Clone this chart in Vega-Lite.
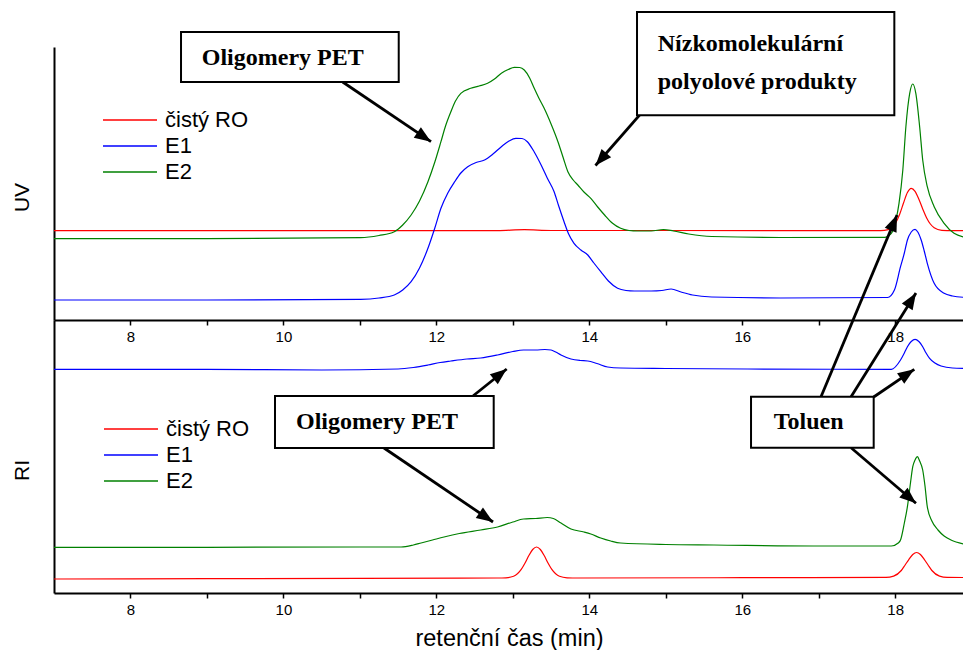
{
  "$schema": "https://vega.github.io/schema/vega-lite/v6.json",
  "usermeta": {"embedOptions": {"actions": false}},
  "padding": {"left": 11, "top": 11, "right": 0, "bottom": 0},
  "bounds": "flush",
  "spacing": 0,
  "config": {
    "view": {"stroke": null},
    "axis": {"domainColor": "black", "domainWidth": 2, "tickColor": "black", "tickWidth": 1.5, "labelColor": "black", "labelFont": "Liberation Sans", "titleFont": "Liberation Sans", "titleFontWeight": "normal", "titleColor": "black", "grid": false},
    "legend": {"labelFont": "Liberation Sans", "labelColor": "black"}
  },
  "resolve": {"legend": {"color": "independent"}},
  "datasets": {
    "uv": [
      {"s": "čistý RO", "t": 7.0, "v": 89.3}, {"s": "čistý RO", "t": 9.0, "v": 89.3}, {"s": "čistý RO", "t": 11.0, "v": 89.3}, {"s": "čistý RO", "t": 12.8, "v": 89.4}, {"s": "čistý RO", "t": 13.15, "v": 90.3}, {"s": "čistý RO", "t": 13.5, "v": 89.5}, {"s": "čistý RO", "t": 15.0, "v": 89.5}, {"s": "čistý RO", "t": 16.5, "v": 89.3}, {"s": "čistý RO", "t": 17.81, "v": 89.3}, {"s": "čistý RO", "t": 17.91, "v": 90.3}, {"s": "čistý RO", "t": 18.01, "v": 97.5}, {"s": "čistý RO", "t": 18.06, "v": 106}, {"s": "čistý RO", "t": 18.11, "v": 117.3}, {"s": "čistý RO", "t": 18.16, "v": 127.5}, {"s": "čistý RO", "t": 18.21, "v": 131.7}, {"s": "čistý RO", "t": 18.26, "v": 128.7}, {"s": "čistý RO", "t": 18.31, "v": 120.8}, {"s": "čistý RO", "t": 18.36, "v": 111.1}, {"s": "čistý RO", "t": 18.41, "v": 102.3}, {"s": "čistý RO", "t": 18.46, "v": 96}, {"s": "čistý RO", "t": 18.51, "v": 92.3}, {"s": "čistý RO", "t": 18.61, "v": 89.7}, {"s": "čistý RO", "t": 18.75, "v": 89.3}, {"s": "čistý RO", "t": 18.9, "v": 89.3},
      {"s": "E1", "t": 7.0, "v": 20}, {"s": "E1", "t": 9.0, "v": 20}, {"s": "E1", "t": 11.01, "v": 20.7}, {"s": "E1", "t": 11.25, "v": 22}, {"s": "E1", "t": 11.45, "v": 25}, {"s": "E1", "t": 11.56, "v": 30}, {"s": "E1", "t": 11.67, "v": 38.3}, {"s": "E1", "t": 11.78, "v": 52}, {"s": "E1", "t": 11.89, "v": 71.7}, {"s": "E1", "t": 11.98, "v": 92}, {"s": "E1", "t": 12.06, "v": 111.7}, {"s": "E1", "t": 12.15, "v": 127}, {"s": "E1", "t": 12.24, "v": 138.3}, {"s": "E1", "t": 12.32, "v": 147}, {"s": "E1", "t": 12.41, "v": 153.3}, {"s": "E1", "t": 12.52, "v": 157.5}, {"s": "E1", "t": 12.63, "v": 160}, {"s": "E1", "t": 12.74, "v": 166}, {"s": "E1", "t": 12.85, "v": 173.3}, {"s": "E1", "t": 12.95, "v": 179}, {"s": "E1", "t": 13.04, "v": 181.7}, {"s": "E1", "t": 13.12, "v": 181.5}, {"s": "E1", "t": 13.19, "v": 178.3}, {"s": "E1", "t": 13.28, "v": 168}, {"s": "E1", "t": 13.37, "v": 155}, {"s": "E1", "t": 13.45, "v": 142}, {"s": "E1", "t": 13.54, "v": 128.3}, {"s": "E1", "t": 13.6, "v": 114}, {"s": "E1", "t": 13.67, "v": 98.3}, {"s": "E1", "t": 13.73, "v": 86}, {"s": "E1", "t": 13.8, "v": 76.7}, {"s": "E1", "t": 13.89, "v": 70}, {"s": "E1", "t": 13.98, "v": 65}, {"s": "E1", "t": 14.06, "v": 57}, {"s": "E1", "t": 14.15, "v": 48.3}, {"s": "E1", "t": 14.25, "v": 39}, {"s": "E1", "t": 14.37, "v": 31.7}, {"s": "E1", "t": 14.48, "v": 29.5}, {"s": "E1", "t": 14.59, "v": 29}, {"s": "E1", "t": 14.81, "v": 29}, {"s": "E1", "t": 14.95, "v": 29.5}, {"s": "E1", "t": 15.07, "v": 31}, {"s": "E1", "t": 15.2, "v": 28}, {"s": "E1", "t": 15.35, "v": 25}, {"s": "E1", "t": 15.6, "v": 23}, {"s": "E1", "t": 16.5, "v": 22}, {"s": "E1", "t": 17.9, "v": 22.5}, {"s": "E1", "t": 17.99, "v": 30}, {"s": "E1", "t": 18.07, "v": 53.3}, {"s": "E1", "t": 18.12, "v": 67}, {"s": "E1", "t": 18.16, "v": 80}, {"s": "E1", "t": 18.21, "v": 88}, {"s": "E1", "t": 18.26, "v": 90.7}, {"s": "E1", "t": 18.3, "v": 87.5}, {"s": "E1", "t": 18.34, "v": 80}, {"s": "E1", "t": 18.38, "v": 69}, {"s": "E1", "t": 18.42, "v": 56.7}, {"s": "E1", "t": 18.51, "v": 36.7}, {"s": "E1", "t": 18.64, "v": 26.7}, {"s": "E1", "t": 18.75, "v": 24}, {"s": "E1", "t": 18.9, "v": 22.7},
      {"s": "E2", "t": 7.0, "v": 81.3}, {"s": "E2", "t": 9.0, "v": 81.3}, {"s": "E2", "t": 11.01, "v": 82.3}, {"s": "E2", "t": 11.25, "v": 84.5}, {"s": "E2", "t": 11.45, "v": 88.3}, {"s": "E2", "t": 11.56, "v": 95}, {"s": "E2", "t": 11.67, "v": 105}, {"s": "E2", "t": 11.78, "v": 119}, {"s": "E2", "t": 11.89, "v": 138.3}, {"s": "E2", "t": 11.98, "v": 158}, {"s": "E2", "t": 12.06, "v": 178.3}, {"s": "E2", "t": 12.12, "v": 194}, {"s": "E2", "t": 12.19, "v": 208.3}, {"s": "E2", "t": 12.25, "v": 219}, {"s": "E2", "t": 12.32, "v": 226.7}, {"s": "E2", "t": 12.45, "v": 231.7}, {"s": "E2", "t": 12.56, "v": 234}, {"s": "E2", "t": 12.67, "v": 236.7}, {"s": "E2", "t": 12.76, "v": 241}, {"s": "E2", "t": 12.85, "v": 246.7}, {"s": "E2", "t": 12.94, "v": 250.5}, {"s": "E2", "t": 13.02, "v": 252.7}, {"s": "E2", "t": 13.09, "v": 252.5}, {"s": "E2", "t": 13.15, "v": 250}, {"s": "E2", "t": 13.22, "v": 242}, {"s": "E2", "t": 13.28, "v": 231.7}, {"s": "E2", "t": 13.34, "v": 222}, {"s": "E2", "t": 13.41, "v": 211.7}, {"s": "E2", "t": 13.5, "v": 196}, {"s": "E2", "t": 13.59, "v": 178.3}, {"s": "E2", "t": 13.66, "v": 162}, {"s": "E2", "t": 13.72, "v": 148.3}, {"s": "E2", "t": 13.79, "v": 140}, {"s": "E2", "t": 13.85, "v": 135}, {"s": "E2", "t": 13.93, "v": 128}, {"s": "E2", "t": 14.02, "v": 121.7}, {"s": "E2", "t": 14.11, "v": 113}, {"s": "E2", "t": 14.2, "v": 105}, {"s": "E2", "t": 14.3, "v": 97}, {"s": "E2", "t": 14.41, "v": 91.7}, {"s": "E2", "t": 14.52, "v": 89.5}, {"s": "E2", "t": 14.63, "v": 89}, {"s": "E2", "t": 14.81, "v": 89}, {"s": "E2", "t": 14.97, "v": 90.5}, {"s": "E2", "t": 15.1, "v": 89}, {"s": "E2", "t": 15.3, "v": 86}, {"s": "E2", "t": 15.6, "v": 83.5}, {"s": "E2", "t": 16.5, "v": 82.5}, {"s": "E2", "t": 17.86, "v": 82.7}, {"s": "E2", "t": 17.95, "v": 86.7}, {"s": "E2", "t": 18.01, "v": 100}, {"s": "E2", "t": 18.05, "v": 116.7}, {"s": "E2", "t": 18.1, "v": 150}, {"s": "E2", "t": 18.14, "v": 193.3}, {"s": "E2", "t": 18.19, "v": 226.7}, {"s": "E2", "t": 18.23, "v": 236}, {"s": "E2", "t": 18.27, "v": 226.7}, {"s": "E2", "t": 18.32, "v": 193.3}, {"s": "E2", "t": 18.36, "v": 160}, {"s": "E2", "t": 18.42, "v": 133.3}, {"s": "E2", "t": 18.51, "v": 113.3}, {"s": "E2", "t": 18.64, "v": 96.7}, {"s": "E2", "t": 18.77, "v": 86.7}, {"s": "E2", "t": 18.9, "v": 83}
    ],
    "ri": [
      {"s": "čistý RO", "t": 7.0, "v": 14}, {"s": "čistý RO", "t": 9.0, "v": 14.3}, {"s": "čistý RO", "t": 11.0, "v": 14.7}, {"s": "čistý RO", "t": 12.8, "v": 15}, {"s": "čistý RO", "t": 12.91, "v": 15.2}, {"s": "čistý RO", "t": 13.01, "v": 16.7}, {"s": "čistý RO", "t": 13.11, "v": 23.6}, {"s": "čistý RO", "t": 13.16, "v": 30}, {"s": "čistý RO", "t": 13.21, "v": 37.5}, {"s": "čistý RO", "t": 13.26, "v": 43.5}, {"s": "čistý RO", "t": 13.31, "v": 46}, {"s": "čistý RO", "t": 13.36, "v": 43.5}, {"s": "čistý RO", "t": 13.41, "v": 37.5}, {"s": "čistý RO", "t": 13.46, "v": 30}, {"s": "čistý RO", "t": 13.51, "v": 23.6}, {"s": "čistý RO", "t": 13.61, "v": 16.7}, {"s": "čistý RO", "t": 13.71, "v": 15.2}, {"s": "čistý RO", "t": 13.85, "v": 15}, {"s": "čistý RO", "t": 16.0, "v": 15.3}, {"s": "čistý RO", "t": 17.88, "v": 15.6}, {"s": "čistý RO", "t": 17.98, "v": 16.9}, {"s": "čistý RO", "t": 18.08, "v": 22.5}, {"s": "čistý RO", "t": 18.13, "v": 28}, {"s": "čistý RO", "t": 18.18, "v": 33.7}, {"s": "čistý RO", "t": 18.23, "v": 38.5}, {"s": "čistý RO", "t": 18.28, "v": 40.5}, {"s": "čistý RO", "t": 18.33, "v": 38.5}, {"s": "čistý RO", "t": 18.38, "v": 33.7}, {"s": "čistý RO", "t": 18.43, "v": 28}, {"s": "čistý RO", "t": 18.48, "v": 22.5}, {"s": "čistý RO", "t": 18.58, "v": 16.9}, {"s": "čistý RO", "t": 18.68, "v": 15.6}, {"s": "čistý RO", "t": 18.9, "v": 15.5},
      {"s": "E1", "t": 7.0, "v": 223.7}, {"s": "E1", "t": 9.0, "v": 223.7}, {"s": "E1", "t": 10.5, "v": 223}, {"s": "E1", "t": 11.5, "v": 224}, {"s": "E1", "t": 11.7, "v": 225.5}, {"s": "E1", "t": 11.89, "v": 228}, {"s": "E1", "t": 12.05, "v": 230.5}, {"s": "E1", "t": 12.19, "v": 232}, {"s": "E1", "t": 12.4, "v": 234}, {"s": "E1", "t": 12.58, "v": 235}, {"s": "E1", "t": 12.8, "v": 238}, {"s": "E1", "t": 13.0, "v": 241.5}, {"s": "E1", "t": 13.14, "v": 243}, {"s": "E1", "t": 13.3, "v": 243}, {"s": "E1", "t": 13.42, "v": 243.5}, {"s": "E1", "t": 13.5, "v": 243}, {"s": "E1", "t": 13.56, "v": 241}, {"s": "E1", "t": 13.63, "v": 238}, {"s": "E1", "t": 13.76, "v": 234}, {"s": "E1", "t": 13.88, "v": 232.5}, {"s": "E1", "t": 13.98, "v": 232}, {"s": "E1", "t": 14.1, "v": 229.5}, {"s": "E1", "t": 14.24, "v": 226}, {"s": "E1", "t": 14.41, "v": 225}, {"s": "E1", "t": 15.0, "v": 224.5}, {"s": "E1", "t": 16.07, "v": 224}, {"s": "E1", "t": 17.95, "v": 223.7}, {"s": "E1", "t": 18.07, "v": 233}, {"s": "E1", "t": 18.12, "v": 240}, {"s": "E1", "t": 18.16, "v": 246.3}, {"s": "E1", "t": 18.21, "v": 251.5}, {"s": "E1", "t": 18.26, "v": 253.7}, {"s": "E1", "t": 18.31, "v": 251.5}, {"s": "E1", "t": 18.36, "v": 246.3}, {"s": "E1", "t": 18.4, "v": 240.5}, {"s": "E1", "t": 18.45, "v": 234.7}, {"s": "E1", "t": 18.52, "v": 230}, {"s": "E1", "t": 18.6, "v": 227}, {"s": "E1", "t": 18.75, "v": 225}, {"s": "E1", "t": 18.9, "v": 224.7},
      {"s": "E2", "t": 7.0, "v": 45.7}, {"s": "E2", "t": 9.0, "v": 45.7}, {"s": "E2", "t": 11.0, "v": 46}, {"s": "E2", "t": 11.54, "v": 46}, {"s": "E2", "t": 11.7, "v": 48}, {"s": "E2", "t": 11.8, "v": 50}, {"s": "E2", "t": 11.95, "v": 53}, {"s": "E2", "t": 12.1, "v": 56}, {"s": "E2", "t": 12.3, "v": 59.5}, {"s": "E2", "t": 12.58, "v": 63}, {"s": "E2", "t": 12.8, "v": 66}, {"s": "E2", "t": 13.0, "v": 71}, {"s": "E2", "t": 13.14, "v": 74}, {"s": "E2", "t": 13.3, "v": 74.5}, {"s": "E2", "t": 13.45, "v": 75.5}, {"s": "E2", "t": 13.53, "v": 74.5}, {"s": "E2", "t": 13.63, "v": 70}, {"s": "E2", "t": 13.76, "v": 64}, {"s": "E2", "t": 13.93, "v": 61}, {"s": "E2", "t": 14.02, "v": 59}, {"s": "E2", "t": 14.15, "v": 55}, {"s": "E2", "t": 14.28, "v": 52}, {"s": "E2", "t": 14.41, "v": 50}, {"s": "E2", "t": 15.0, "v": 48.5}, {"s": "E2", "t": 15.63, "v": 48}, {"s": "E2", "t": 16.93, "v": 47}, {"s": "E2", "t": 17.95, "v": 47}, {"s": "E2", "t": 18.04, "v": 50}, {"s": "E2", "t": 18.07, "v": 53}, {"s": "E2", "t": 18.12, "v": 70}, {"s": "E2", "t": 18.16, "v": 86.3}, {"s": "E2", "t": 18.2, "v": 110}, {"s": "E2", "t": 18.23, "v": 126.3}, {"s": "E2", "t": 18.26, "v": 133}, {"s": "E2", "t": 18.29, "v": 136.3}, {"s": "E2", "t": 18.32, "v": 132}, {"s": "E2", "t": 18.36, "v": 123}, {"s": "E2", "t": 18.39, "v": 107}, {"s": "E2", "t": 18.42, "v": 86.3}, {"s": "E2", "t": 18.48, "v": 72}, {"s": "E2", "t": 18.56, "v": 63}, {"s": "E2", "t": 18.64, "v": 57}, {"s": "E2", "t": 18.73, "v": 53}, {"s": "E2", "t": 18.9, "v": 49}
    ],
    "boxesTop": [{"t": 8.661, "t2": 11.508, "v": 288, "v2": 238}, {"t": 14.624, "t2": 17.989, "v": 308, "v2": 204.7}],
    "textTopC": [{"t": 9.991, "v": 254.7, "label": "Oligomery PET"}],
    "textTopL": [{"t": 14.895, "v": 268.7, "label": "Nízkomolekulární"}, {"t": 14.895, "v": 231, "label": "polyolové produkty"}],
    "arrowsTop": [{"t": 10.775, "v": 238, "t2": 11.93, "v2": 178.3}, {"t": 14.872, "v": 223.7, "t2": 14.081, "v2": 154.5}],
    "boxesBot": [{"t": 9.89, "t2": 12.75, "v": 197, "v2": 145}, {"t": 16.115, "t2": 17.719, "v": 196.3, "v2": 145.3}],
    "textBot": [{"t": 11.224, "v": 164, "label": "Oligomery PET"}, {"t": 16.869, "v": 164, "label": "Toluen"}],
    "arrowsBot": [{"t": 12.479, "v": 197, "t2": 12.92, "v2": 224}, {"t": 11.315, "v": 145, "t2": 12.741, "v2": 71}, {"t": 17.03, "v": 196.3, "t2": 18.024, "v2": 378}, {"t": 17.423, "v": 196.3, "t2": 18.272, "v2": 300}, {"t": 17.719, "v": 196, "t2": 18.25, "v2": 223.7}, {"t": 17.423, "v": 145.3, "t2": 18.272, "v2": 89.7}]
  },
  "vconcat": [
    {
      "width": 910,
      "height": 273,
      "layer": [
        {
          "data": {"name": "uv"},
          "mark": {"type": "line", "strokeWidth": 1.2, "interpolate": "monotone"},
          "encoding": {
            "x": {"field": "t", "type": "quantitative", "scale": {"domain": [7, 18.9], "nice": false, "zero": false}, "axis": {"title": null, "values": [8, 9, 10, 11, 12, 13, 14, 15, 16, 17, 18], "format": "d", "labelExpr": "datum.value % 2 === 0 ? datum.label : ''", "tickSize": 5, "labelFontSize": 15, "labelPadding": 4}},
            "y": {"field": "v", "type": "quantitative", "scale": {"domain": [0, 273], "nice": false, "zero": false}, "axis": {"title": "UV", "ticks": false, "labels": false, "titleFontSize": 21, "titleX": -31.5, "titleY": 150, "titleAngle": 270, "titleBaseline": "middle", "titleAlign": "center"}},
            "color": {"field": "s", "type": "nominal", "scale": {"domain": ["čistý RO", "E1", "E2"], "range": ["#ff0000", "#0000ff", "#008000"]}, "legend": {"orient": "none", "legendX": 65, "legendY": 62, "title": null, "symbolType": "M-3,0L3,0", "symbolSize": 324, "symbolStrokeWidth": 1.5, "labelFontSize": 22, "labelOffset": 24, "rowPadding": 4}}
          }
        },
        {
          "data": {"name": "arrowsTop"},
          "mark": {"type": "rule", "color": "black", "strokeWidth": 2.8},
          "encoding": {
            "x": {"field": "t", "type": "quantitative", "scale": {"domain": [7, 18.9], "nice": false, "zero": false}},
            "y": {"field": "v", "type": "quantitative", "scale": {"domain": [0, 273], "nice": false, "zero": false}},
            "x2": {"field": "t2"},
            "y2": {"field": "v2"}
          }
        },
        {
          "data": {"name": "arrowsTop"},
          "transform": [{"calculate": "atan2((datum.t2 - datum.t) * 76.47, datum.v2 - datum.v) * 180 / PI", "as": "ang"}],
          "mark": {"type": "point", "shape": "M0,0L-0.85,2.2L0.85,2.2Z", "size": 225, "filled": true, "color": "black", "opacity": 1},
          "encoding": {
            "x": {"field": "t2", "type": "quantitative", "scale": {"domain": [7, 18.9], "nice": false, "zero": false}},
            "y": {"field": "v2", "type": "quantitative", "scale": {"domain": [0, 273], "nice": false, "zero": false}},
            "angle": {"field": "ang", "type": "quantitative", "scale": null}
          }
        },
        {
          "data": {"name": "boxesTop"},
          "mark": {"type": "rect", "fill": "white", "stroke": "black", "strokeWidth": 2},
          "encoding": {
            "x": {"field": "t", "type": "quantitative", "scale": {"domain": [7, 18.9], "nice": false, "zero": false}},
            "x2": {"field": "t2"},
            "y": {"field": "v", "type": "quantitative", "scale": {"domain": [0, 273], "nice": false, "zero": false}},
            "y2": {"field": "v2"}
          }
        },
        {
          "data": {"name": "textTopC"},
          "mark": {"type": "text", "font": "Liberation Serif", "fontWeight": "bold", "fontSize": 24, "align": "center", "baseline": "alphabetic", "color": "black"},
          "encoding": {
            "x": {"field": "t", "type": "quantitative", "scale": {"domain": [7, 18.9], "nice": false, "zero": false}},
            "y": {"field": "v", "type": "quantitative", "scale": {"domain": [0, 273], "nice": false, "zero": false}},
            "text": {"field": "label"}
          }
        },
        {
          "data": {"name": "textTopL"},
          "mark": {"type": "text", "font": "Liberation Serif", "fontWeight": "bold", "fontSize": 24, "align": "left", "baseline": "alphabetic", "color": "black"},
          "encoding": {
            "x": {"field": "t", "type": "quantitative", "scale": {"domain": [7, 18.9], "nice": false, "zero": false}},
            "y": {"field": "v", "type": "quantitative", "scale": {"domain": [0, 273], "nice": false, "zero": false}},
            "text": {"field": "label"}
          }
        }
      ]
    },
    {
      "width": 910,
      "height": 273,
      "layer": [
        {
          "data": {"name": "ri"},
          "mark": {"type": "line", "strokeWidth": 1.2, "interpolate": "monotone"},
          "encoding": {
            "x": {"field": "t", "type": "quantitative", "scale": {"domain": [7, 18.9], "nice": false, "zero": false}, "axis": {"title": "retenční čas (min)", "values": [8, 9, 10, 11, 12, 13, 14, 15, 16, 17, 18], "format": "d", "labelExpr": "datum.value % 2 === 0 ? datum.label : ''", "tickSize": 5, "labelFontSize": 15, "labelPadding": 4, "titleFontSize": 23.5, "titlePadding": 9}},
            "y": {"field": "v", "type": "quantitative", "scale": {"domain": [0, 273], "nice": false, "zero": false}, "axis": {"title": "RI", "ticks": false, "labels": false, "titleFontSize": 21, "titleX": -31.5, "titleY": 150, "titleAngle": 270, "titleBaseline": "middle", "titleAlign": "center"}},
            "color": {"field": "s", "type": "nominal", "scale": {"domain": ["čistý RO", "E1", "E2"], "range": ["#ff0000", "#0000ff", "#008000"]}, "legend": {"orient": "none", "legendX": 66, "legendY": 98, "title": null, "symbolType": "M-3,0L3,0", "symbolSize": 324, "symbolStrokeWidth": 1.5, "labelFontSize": 22, "labelOffset": 24, "rowPadding": 4}}
          }
        },
        {
          "data": {"name": "arrowsBot"},
          "mark": {"type": "rule", "color": "black", "strokeWidth": 2.8},
          "encoding": {
            "x": {"field": "t", "type": "quantitative", "scale": {"domain": [7, 18.9], "nice": false, "zero": false}},
            "y": {"field": "v", "type": "quantitative", "scale": {"domain": [0, 273], "nice": false, "zero": false}},
            "x2": {"field": "t2"},
            "y2": {"field": "v2"}
          }
        },
        {
          "data": {"name": "arrowsBot"},
          "transform": [{"calculate": "atan2((datum.t2 - datum.t) * 76.47, datum.v2 - datum.v) * 180 / PI", "as": "ang"}],
          "mark": {"type": "point", "shape": "M0,0L-0.85,2.2L0.85,2.2Z", "size": 225, "filled": true, "color": "black", "opacity": 1},
          "encoding": {
            "x": {"field": "t2", "type": "quantitative", "scale": {"domain": [7, 18.9], "nice": false, "zero": false}},
            "y": {"field": "v2", "type": "quantitative", "scale": {"domain": [0, 273], "nice": false, "zero": false}},
            "angle": {"field": "ang", "type": "quantitative", "scale": null}
          }
        },
        {
          "data": {"name": "boxesBot"},
          "mark": {"type": "rect", "fill": "white", "stroke": "black", "strokeWidth": 2},
          "encoding": {
            "x": {"field": "t", "type": "quantitative", "scale": {"domain": [7, 18.9], "nice": false, "zero": false}},
            "x2": {"field": "t2"},
            "y": {"field": "v", "type": "quantitative", "scale": {"domain": [0, 273], "nice": false, "zero": false}},
            "y2": {"field": "v2"}
          }
        },
        {
          "data": {"name": "textBot"},
          "mark": {"type": "text", "font": "Liberation Serif", "fontWeight": "bold", "fontSize": 24, "align": "center", "baseline": "alphabetic", "color": "black"},
          "encoding": {
            "x": {"field": "t", "type": "quantitative", "scale": {"domain": [7, 18.9], "nice": false, "zero": false}},
            "y": {"field": "v", "type": "quantitative", "scale": {"domain": [0, 273], "nice": false, "zero": false}},
            "text": {"field": "label"}
          }
        }
      ]
    }
  ]
}
